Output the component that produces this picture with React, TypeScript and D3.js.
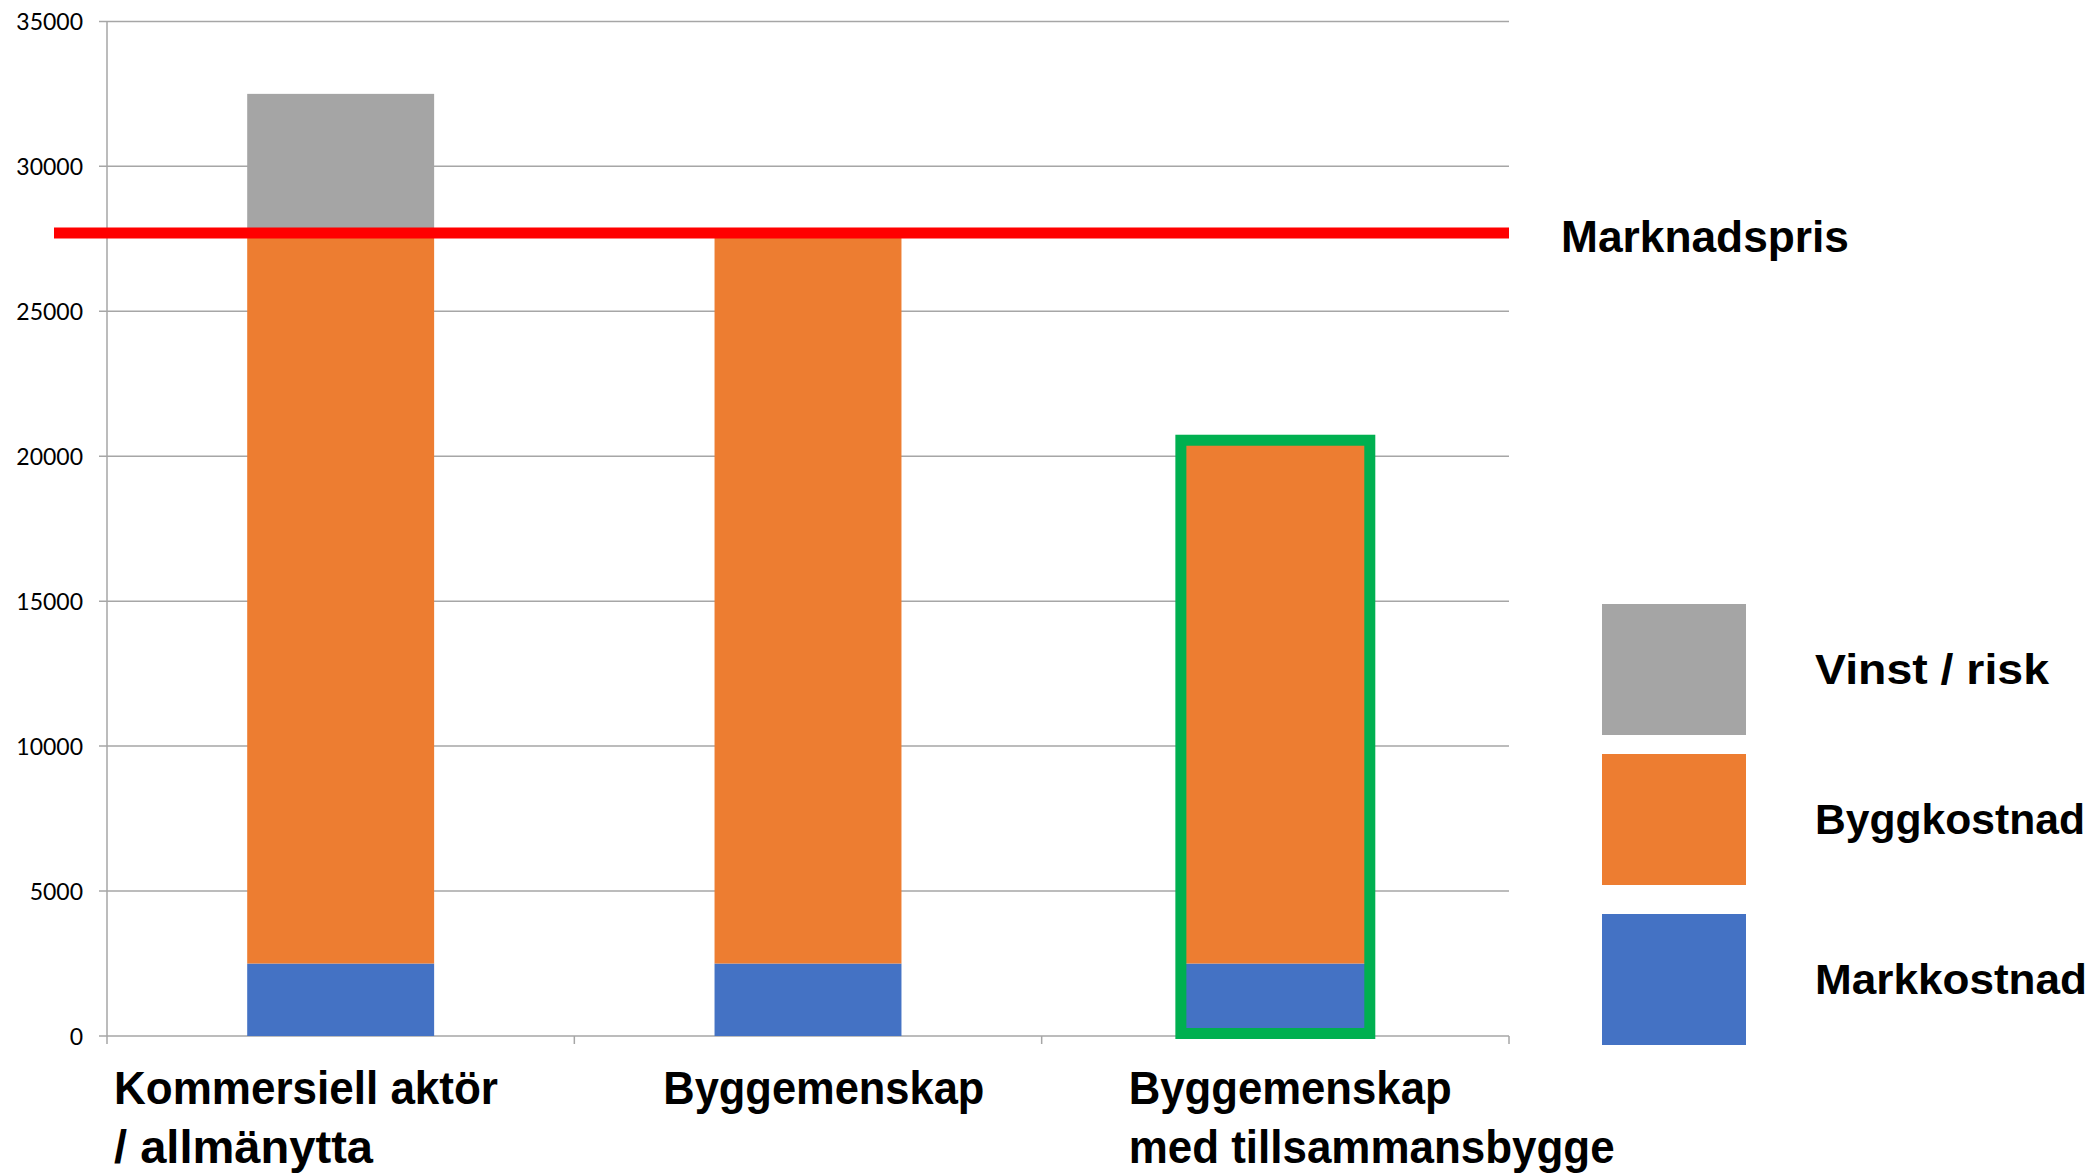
import * as d3 from 'd3';

const categories = ['Kommersiell aktör', 'Byggemenskap', 'Byggemenskap tillsammans'];
const categoryLabels = [['Kommersiell aktör', '/ allmänytta'], ['Byggemenskap'], ['Byggemenskap', 'med tillsammansbygge']];
const markkostnad = [2500, 2500, 2500];
const byggkostnad = [25200, 25200, 18000];
const vinstRisk = [4800, 0, 0];
const marknadspris = 27700;
const yTicks = [0, 5000, 10000, 15000, 20000, 25000, 30000, 35000];
const seriesNames = ['Markkostnad', 'Byggkostnad', 'Vinst / risk'];
const seriesColors = ['#4472C4', '#ED7D31', '#A5A5A5'];
const highlighted = 'Byggemenskap tillsammans';

const W = 2099, H = 1174;
const m = { left: 107, right: 590, top: 21.4, bottom: 138 };
const labelFont = '"Liberation Sans Narrow", "Liberation Sans", Arial, sans-serif';
const legendFont = '"Liberation Sans", Arial, sans-serif';

export default function App() {
  const x = d3.scaleBand<string>().domain(categories).range([m.left, W - m.right]).paddingInner(0.6).paddingOuter(0.3);
  const y = d3.scaleLinear().domain([0, 35000]).range([H - m.bottom, m.top]);
  const step = x.step();
  const x0 = m.left, x1 = W - m.right;

  const rows = categories.map((c, i) => ({ cat: c, Markkostnad: markkostnad[i], Byggkostnad: byggkostnad[i], 'Vinst / risk': vinstRisk[i] }));
  const stacked = d3.stack<any>().keys(seriesNames)(rows);

  // label offsets from band start (text boxes in the original are placed by hand)
  const labelDx = [7, 89, 87];
  const labelW = [[384, 259], [321], [323, 486]];
  const legendY = [669, 819, 979];
  const legendW = [234, 270, 272];
  const legendOrder = [2, 1, 0];

  const hiIdx = categories.indexOf(highlighted);
  const hiTop = y(markkostnad[hiIdx] + byggkostnad[hiIdx] + vinstRisk[hiIdx]) - 1.5;
  const hiBottom = y(0) - 2.5;
  const gs = 11;

  return (
    <svg width={W} height={H} style={{ position: 'absolute', left: 0, top: 0, background: '#fff' }}>
      {/* gridlines */}
      {yTicks.map(t => (
        <g key={t}>
          <line x1={x0 - 8} x2={x1} y1={y(t)} y2={y(t)} stroke="#A6A6A6" strokeWidth={1.5} />
          <text x={83} y={y(t)} textAnchor="end" dominantBaseline="central" fontFamily="Lato, sans-serif" fontSize={23} fill="#000">{t}</text>
        </g>
      ))}
      <line x1={x0} x2={x0} y1={y(35000)} y2={y(0) + 8} stroke="#A6A6A6" strokeWidth={1.5} />
      {[1, 2, 3].map(k => (
        <line key={k} x1={x0 + k * step} x2={x0 + k * step} y1={y(0)} y2={y(0) + 8} stroke="#A6A6A6" strokeWidth={1.5} />
      ))}

      {/* stacked bars */}
      {stacked.map((s, si) => (
        <g key={s.key} fill={seriesColors[si]}>
          {s.map((d, i) => d[1] - d[0] > 0 ? (
            <rect key={i} x={x(categories[i])} width={x.bandwidth()} y={y(d[1])} height={y(d[0]) - y(d[1])} />
          ) : null)}
        </g>
      ))}

      {/* highlight frame */}
      <rect x={(x(highlighted) ?? 0) - 1} y={hiTop} width={x.bandwidth() + 2} height={hiBottom - hiTop}
        fill="none" stroke="#00B050" strokeWidth={gs} />

      {/* market price */}
      <line x1={54} x2={x1} y1={y(marknadspris)} y2={y(marknadspris)} stroke="#FF0000" strokeWidth={11} />
      <text x={1561} y={236} dominantBaseline="central" fontFamily={labelFont} fontWeight="bold" fontSize={44}
        textLength={288} lengthAdjust="spacingAndGlyphs">Marknadspris</text>

      {/* category labels */}
      {categories.map((c, i) => categoryLabels[i].map((ln, j) => (
        <text key={c + j} x={(x(c) ?? 0) - step * 0.3 + labelDx[i]} y={1088 + j * 59} dominantBaseline="central"
          fontFamily={labelFont} fontWeight="bold" fontSize={46} textLength={labelW[i][j]} lengthAdjust="spacingAndGlyphs">{ln}</text>
      )))}

      {/* legend */}
      {legendOrder.map((si, k) => (
        <g key={si}>
          <rect x={1602} y={legendY[k] - 65} width={144} height={131} fill={seriesColors[si]} />
          <text x={1815} y={legendY[k]} dominantBaseline="central" fontFamily={legendFont} fontWeight="bold" fontSize={42}
            textLength={legendW[k]} lengthAdjust="spacingAndGlyphs">{seriesNames[si]}</text>
        </g>
      ))}
    </svg>
  );
}
